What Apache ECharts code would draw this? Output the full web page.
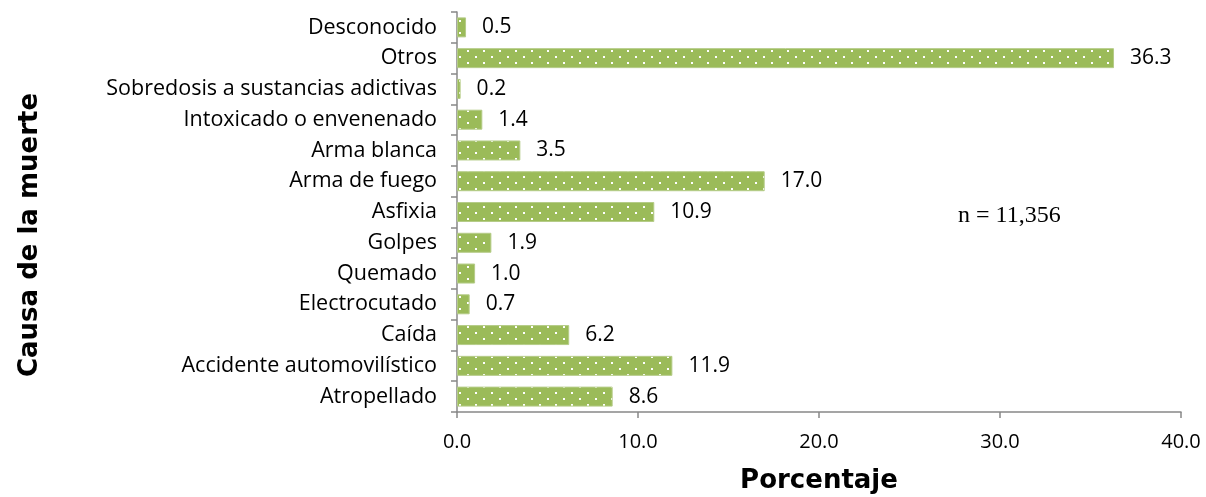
<!DOCTYPE html>
<html>
<head>
<meta charset="utf-8">
<script src="https://cdn.jsdelivr.net/npm/echarts@6/dist/echarts.min.js"></script>
<style>
  html, body { margin: 0; padding: 0; background: #fff; }
  #chart { width: 1206px; height: 497px; }
</style>
</head>
<body>
<div id="chart"></div>
<script>
// Causes listed bottom-to-top (category axis starts at the bottom)
const causas = [
  'Atropellado',
  'Accidente automovilístico',
  'Caída',
  'Electrocutado',
  'Quemado',
  'Golpes',
  'Asfixia',
  'Arma de fuego',
  'Arma blanca',
  'Intoxicado o envenenado',
  'Sobredosis a sustancias adictivas',
  'Otros',
  'Desconocido'
];
const porcentajes = [8.6, 11.9, 6.2, 0.7, 1.0, 1.9, 10.9, 17.0, 3.5, 1.4, 0.2, 36.3, 0.5];
const xTicks = [0, 10, 20, 30, 40];
const nota = 'n = 11,356';
const tituloX = 'Porcentaje';
const tituloY = 'Causa de la muerte';

// Dotted fill for the bars
function dotPattern() {
  const c = document.createElement('canvas');
  c.width = 16; c.height = 12;
  const g = c.getContext('2d');
  g.fillStyle = '#9BBB59';
  g.fillRect(0, 0, 16, 12);
  g.fillStyle = '#ffffff';
  g.fillRect(3, 2, 2, 2);
  g.fillRect(11, 8, 2, 2);
  return c;
}

const font = '"Open Sans", "DejaVu Sans", sans-serif';
const chart = echarts.init(document.getElementById('chart'));
chart.setOption({
  animation: false,
  grid: { left: 457, right: 25, top: 12, bottom: 85, containLabel: false, outerBoundsMode: 'none' },
  xAxis: {
    type: 'value',
    min: xTicks[0],
    max: xTicks[xTicks.length - 1],
    interval: 10,
    axisLine: { show: true, lineStyle: { color: '#888', width: 1.5 } },
    axisTick: { show: true, length: 6, lineStyle: { color: '#888', width: 1.5 } },
    axisLabel: {
      margin: 20, fontFamily: font, fontSize: 20, color: '#000',
      formatter: v => v.toFixed(1)
    },
    splitLine: { show: false }
  },
  yAxis: {
    type: 'category',
    data: causas,
    axisLine: { show: true, lineStyle: { color: '#888', width: 1.5 } },
    axisTick: { show: true, length: 6, alignWithLabel: false, lineStyle: { color: '#888', width: 1.5 } },
    axisLabel: { margin: 20, fontFamily: font, fontSize: 21.5, color: '#000' }
  },
  series: [{
    type: 'bar',
    data: porcentajes,
    barCategoryGap: '35%',
    itemStyle: {
      color: { image: dotPattern(), repeat: 'repeat' },
      borderColor: '#B5CC88',
      borderWidth: 1
    },
    label: {
      show: true,
      position: 'right',
      distance: 16,
      fontFamily: font,
      fontSize: 21,
      color: '#000',
      formatter: p => p.value.toFixed(1)
    }
  }],
  graphic: [{
    type: 'text',
    left: 958,
    top: 204,
    style: {
      text: nota,
      font: '24px "Liberation Serif", "DejaVu Serif", serif',
      fill: '#000'
    }
  }, {
    type: 'text',
    x: 819,
    y: 481,
    style: {
      text: tituloX,
      font: 'bold 26px "DejaVu Sans", sans-serif',
      fill: '#000',
      align: 'center',
      verticalAlign: 'middle'
    }
  }, {
    type: 'text',
    x: 30,
    y: 235,
    rotation: Math.PI / 2,
    style: {
      text: tituloY,
      font: 'bold 26px "DejaVu Sans", sans-serif',
      fill: '#000',
      align: 'center',
      verticalAlign: 'middle'
    }
  }]
});
</script>
</body>
</html>
